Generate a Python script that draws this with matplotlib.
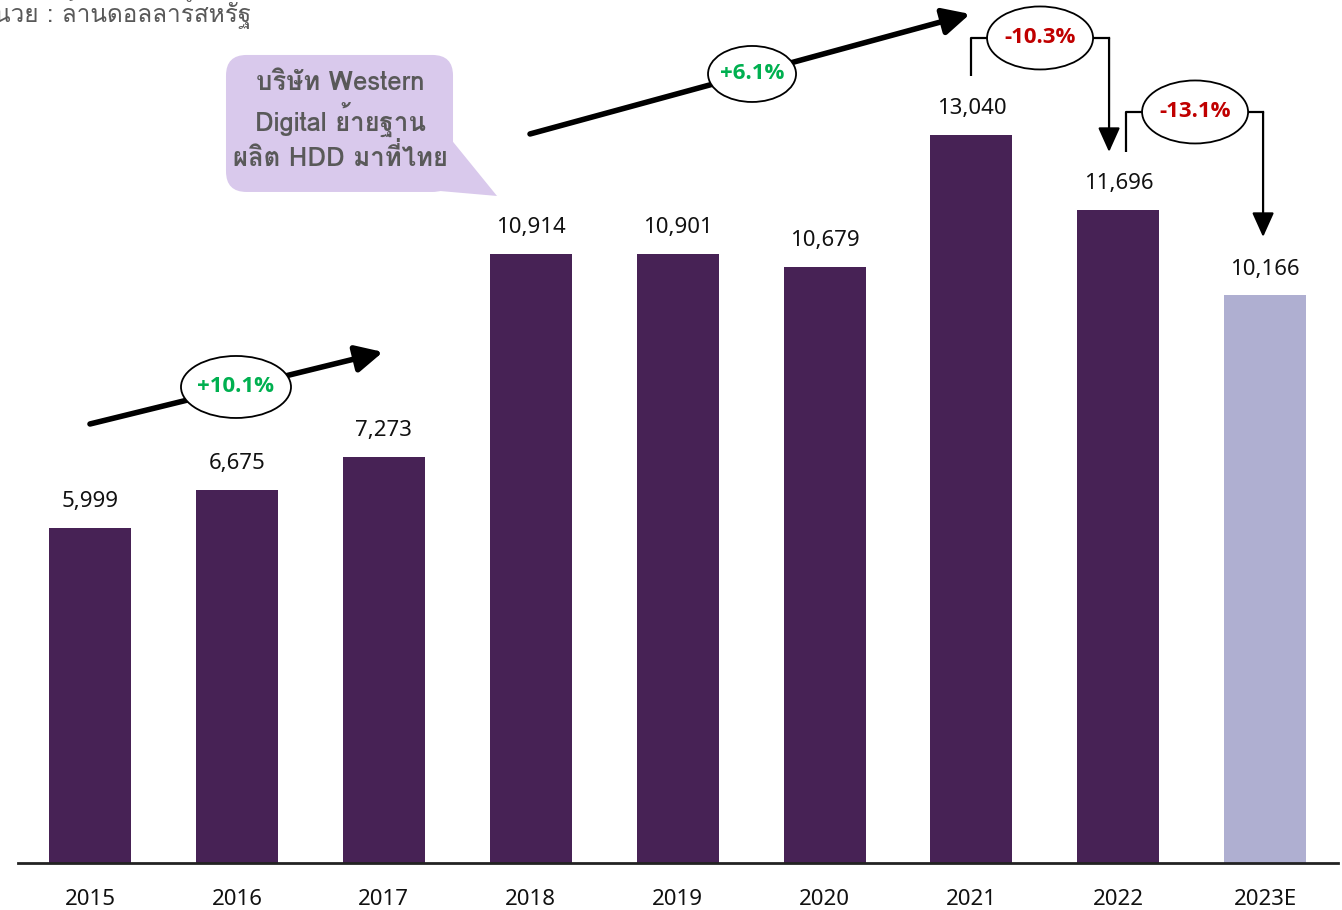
import matplotlib
matplotlib.use("Agg")
import matplotlib.pyplot as plt
from matplotlib import font_manager as fm, ft2font
from matplotlib.patches import Ellipse, FancyBboxPatch, Polygon

# ---------------- data ----------------
years = ["2015", "2016", "2017", "2018", "2019", "2020", "2021", "2022", "2023E"]
values = [5999, 6675, 7273, 10914, 10901, 10679, 13040, 11696, 10166]
bar_colors = ["#472255"] * 8 + ["#AFAFD1"]
growth_labels = ["+10.1%", "+6.1%", "-10.3%", "-13.1%"]
unit_text = "หน่วย : ล้านดอลลาร์สหรัฐ"
callout_lines = ["บริษัท Western", "Digital ย้ายฐาน", "ผลิต HDD มาที่ไทย"]

# ---------------- fonts ----------------
thai_family = None
for f in fm.fontManager.ttflist:
    try:
        if 0x0E01 in ft2font.FT2Font(f.fname).get_charmap():
            thai_family = f.name
            break
    except Exception:
        pass
fams = ["Noto Sans", "DejaVu Sans"]
if thai_family:
    fams = [thai_family] + fams
plt.rcParams["font.family"] = fams
num_fams = ["Noto Sans", "DejaVu Sans"]
bold_fams = ["Open Sans", "DejaVu Sans"]

W, H = 1342, 910
fig = plt.figure(figsize=(W / 100, H / 100), dpi=100)
ax_left, ax_right, ax_bottom = 18, 1338, 863
ax = fig.add_axes([ax_left / W, (H - ax_bottom) / H, (ax_right - ax_left) / W, ax_bottom / H])

x = list(range(len(years)))
ax.bar(x, values, width=0.558, color=bar_colors, zorder=2)
ax.set_xlim(-0.49, 8.495)
ax.set_ylim(0, 15457)

for s in ["left", "right", "top"]:
    ax.spines[s].set_visible(False)
ax.spines["bottom"].set_linewidth(2)
ax.spines["bottom"].set_color("#222222")
ax.set_yticks([])
ax.set_xticks(x)
ax.set_xticklabels(years, fontsize=16, family=num_fams, color="#111111")
ax.tick_params(axis="x", length=0, pad=19)

for xi, v in zip(x, values):
    ax.annotate(f"{v:,}", (xi, v), xytext=(0, 19), textcoords="offset points",
                ha="center", va="center", fontsize=16, family=num_fams, color="#111111")

# pixel -> data helpers (for annotation placement only)
def px(xp):
    return (xp - 90) / 146.9

def py(yp):
    return (863 - yp) / 0.05583

# ---------- rising arrows with ellipses ----------
def rising(start, end, center, w, h, label):
    ax.annotate("", xy=(px(end[0]), py(end[1])), xytext=(px(start[0]), py(start[1])),
                arrowprops=dict(arrowstyle="-|>,head_length=0.9,head_width=0.45",
                                lw=4, color="black", mutation_scale=18, shrinkA=0, shrinkB=0),
                zorder=3)
    e = Ellipse((px(center[0]), py(center[1])), w / 146.9, h / 0.05583,
                facecolor="white", edgecolor="black", lw=1.3, zorder=4)
    ax.add_patch(e)
    ax.text(px(center[0]), py(center[1]), label, ha="center", va="center",
            fontsize=16, fontweight="bold", color="#00B050", family=bold_fams, zorder=5)

rising((90, 424), (383, 352), (236, 387), 110, 62, growth_labels[0])
rising((530, 134), (970, 14), (752, 74), 88, 56, growth_labels[1])

# ---------- falling brackets ----------
def bracket(xl, y_start, y_top, center, w, h, xr, y_end, label):
    ax.plot([px(xl), px(xl), px(center[0] - w / 2)], [py(y_start), py(y_top), py(y_top)],
            color="black", lw=1.6, zorder=3, solid_capstyle="butt")
    ax.plot([px(center[0] + w / 2), px(xr)], [py(y_top), py(y_top)],
            color="black", lw=1.6, zorder=3)
    ax.annotate("", xy=(px(xr), py(y_end)), xytext=(px(xr), py(y_top)),
                arrowprops=dict(arrowstyle="-|>,head_length=1.0,head_width=0.45",
                                lw=1.6, color="black", mutation_scale=15, shrinkA=0, shrinkB=0),
                zorder=3)
    e = Ellipse((px(center[0]), py(center[1])), w / 146.9, h / 0.05583,
                facecolor="white", edgecolor="black", lw=1.3, zorder=4)
    ax.add_patch(e)
    ax.text(px(center[0]), py(center[1]), label, ha="center", va="center",
            fontsize=16, fontweight="bold", color="#C00000", family=bold_fams, zorder=5)

bracket(971, 76, 38, (1040, 38), 106, 63, 1109, 152, growth_labels[2])
bracket(1126, 152, 112, (1195, 112), 106, 63, 1263, 237, growth_labels[3])

# ---------- callout ----------
asp = (15457 / 863) / (8.985 / 1320)
box = FancyBboxPatch((px(226), py(192)), px(453) - px(226), py(55) - py(192),
                     boxstyle="round,pad=0,rounding_size=0.14", mutation_aspect=asp,
                     facecolor="#D9C9EC", edgecolor="none", zorder=3)
ax.add_patch(box)
tail = Polygon([(px(445), py(132)), (px(497), py(196)), (px(428), py(190))],
               closed=True, facecolor="#D9C9EC", edgecolor="none", zorder=3)
ax.add_patch(tail)
for line, yy in zip(callout_lines, [83, 120, 157]):
    ax.text(px(340), py(yy), line, ha="center", va="center", fontsize=18.5,
            fontweight="bold", color="#595959", zorder=5)

fig.text(-22 / W, 1 - 12 / H, unit_text, ha="left", va="center", fontsize=17.5, color="#595959")

fig.savefig("out.png", dpi=100)
